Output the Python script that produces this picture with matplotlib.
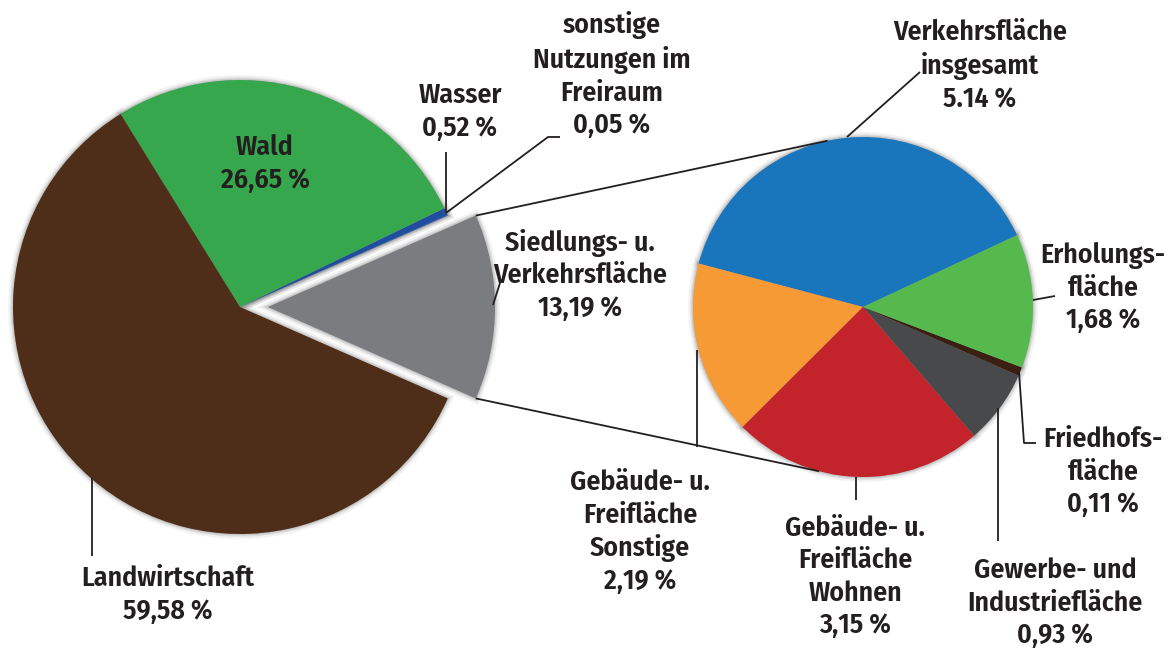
import matplotlib
matplotlib.use("Agg")
import matplotlib.pyplot as plt
import numpy as np

# Flächennutzung – Hauptkategorien (%)
main_labels = ["Siedlungs- u.\nVerkehrsfläche", "sonstige\nNutzungen im\nFreiraum", "Wasser", "Wald", "Landwirtschaft"]
main_values = [13.19, 0.05, 0.52, 26.65, 59.58]
main_colors = ["#7b7c80", "#2a5aa8", "#1f4e9f", "#36a74d", "#4e2e18"]

# Aufschlüsselung Siedlungs- und Verkehrsfläche (%)
sub_labels = ["Verkehrsfläche\ninsgesamt", "Gebäude- u.\nFreifläche\nSonstige", "Gebäude- u.\nFreifläche\nWohnen",
              "Gewerbe- und\nIndustriefläche", "Friedhofs-\nfläche", "Erholungs-\nfläche"]
sub_values = [5.14, 2.19, 3.15, 0.93, 0.11, 1.68]
sub_value_text = ["5.14 %", "2,19 %", "3,15 %", "0,93 %", "0,11 %", "1,68 %"]
sub_colors = ["#1a76bc", "#f69a35", "#c3232a", "#48494b", "#3a2012", "#55b94d"]

W, H = 1175, 653
plt.rcParams["font.family"] = ["Fira Sans Condensed", "PT Sans Narrow", "DejaVu Sans"]
plt.rcParams["font.stretch"] = "condensed"
TXT = "#231f20"
FS = 20

fig = plt.figure(figsize=(W / 100, H / 100), dpi=100)
ax = fig.add_axes([0, 0, 1, 1])

def py(y):
    return H - y

left_c = (240, py(307))
left_r = 227
right_c = (863, py(307))
right_r = 170

main_start = -main_values[0] / sum(main_values) * 360 / 2
explode = [28, 0, 0, 0, 0]

# soft halo underneath both pies
for lw, a in [(7, 0.10), (4, 0.18), (2, 0.25)]:
    ax.pie(main_values, colors=["#888888"] * 5, startangle=main_start, explode=explode,
           center=left_c, radius=left_r, wedgeprops=dict(edgecolor="#888888", linewidth=lw, alpha=a))
    ax.pie(sub_values, colors=["#888888"] * 6, startangle=25,
           center=right_c, radius=right_r, wedgeprops=dict(edgecolor="#888888", linewidth=lw, alpha=a))

wedges_l, _ = ax.pie(main_values, colors=main_colors, startangle=main_start, explode=explode,
                     center=left_c, radius=left_r, wedgeprops=dict(linewidth=0))
wedges_r, _ = ax.pie(sub_values, colors=sub_colors, startangle=25,
                     center=right_c, radius=right_r, wedgeprops=dict(linewidth=0))

ax.set_xlim(0, W)
ax.set_ylim(0, H)
ax.set_aspect("equal")
ax.axis("off")

# connector lines between the exploded slice and the detail pie
sw = wedges_l[0]
cx, cy = sw.center
t1, t2 = np.radians(sw.theta1), np.radians(sw.theta2)
top_corner = (cx + sw.r * np.cos(t2), cy + sw.r * np.sin(t2))
bot_corner = (cx + sw.r * np.cos(t1), cy + sw.r * np.sin(t1))
a_top, a_bot = np.radians(102), np.radians(255)
r_top = (right_c[0] + right_r * np.cos(a_top), right_c[1] + right_r * np.sin(a_top))
r_bot = (right_c[0] + right_r * np.cos(a_bot), right_c[1] + right_r * np.sin(a_bot))
lk = dict(color="#231f20", lw=1.3, solid_capstyle="butt")
ax.plot([top_corner[0], r_top[0]], [top_corner[1], r_top[1]], **lk)
ax.plot([bot_corner[0], r_bot[0]], [bot_corner[1], r_bot[1]], **lk)

def leader(xs, ys):
    ax.plot(xs, [py(v) for v in ys], **lk)

def label(x, y, s):
    ax.text(x, py(y), s, ha="center", va="center", fontsize=FS, fontweight="semibold",
            color=TXT, linespacing=1.28)

pct = lambda v: f"{v:.2f} %".replace(".", ",")

# main pie labels
label(265, 164, f"{main_labels[3]}\n{pct(main_values[3])}")
label(460, 112, f"{main_labels[2]}\n{pct(main_values[2])}")
label(612, 75, f"{main_labels[1]}\n{pct(main_values[1])}")
label(580, 275, f"{main_labels[0]}\n{pct(main_values[0])}")
label(168, 595, f"{main_labels[4]}\n{pct(main_values[4])}")

leader([446, 446], [152, 212])
leader([446, 548, 560], [213, 137, 137])
leader([500, 493], [283, 305])
leader([92, 92], [478, 556])

# detail pie labels
label(980, 66, f"{sub_labels[0]}\n{sub_value_text[0]}")
label(640, 532, f"{sub_labels[1]}\n{sub_value_text[1]}")
label(855, 577, f"{sub_labels[2]}\n{sub_value_text[2]}")
label(1055, 603, f"{sub_labels[3]}\n{sub_value_text[3]}")
label(1103, 472, f"{sub_labels[4]}\n{sub_value_text[4]}")
label(1103, 288, f"{sub_labels[5]}\n{sub_value_text[5]}")

leader([847, 920], [137, 72])
leader([697, 697], [350, 447])
leader([856, 856], [477, 500])
leader([998, 998], [408, 541])
leader([1019, 1024, 1036], [372, 443, 443])
leader([1033, 1055], [300, 296])

fig.savefig("out.png", dpi=100)
